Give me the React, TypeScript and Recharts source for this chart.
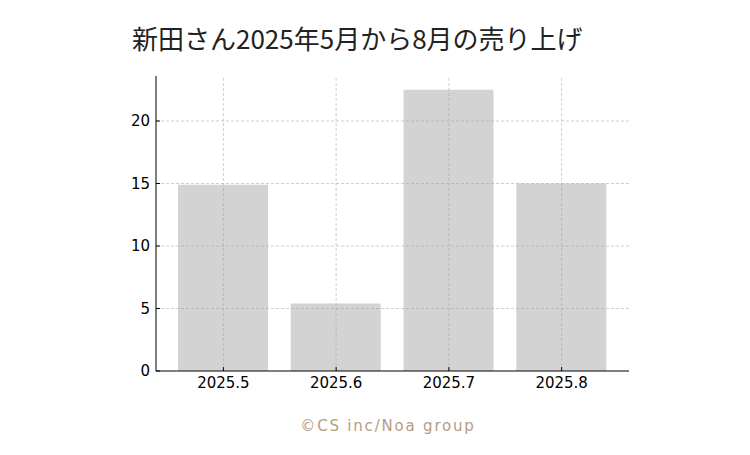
import { BarChart, Bar, XAxis, YAxis, ReferenceLine } from 'recharts';

const months = ['2025.5', '2025.6', '2025.7', '2025.8'];
const sales = [14.9, 5.4, 22.5, 15.0];
const yTicks = [0, 5, 10, 15, 20];

const chartData = months.map((m, i) => ({ month: m, sales: sales[i] }));

const tickStyle = { fill: '#000', fontSize: 15, fontFamily: 'DejaVu Sans' };
const gridProps = { stroke: '#a0a0a0', strokeOpacity: 0.5, strokeDasharray: '3 2' };

export default function App() {
  return (
    <div style={{ position: 'absolute', left: 0, top: 0, width: 750, height: 455, background: '#fff' }}>
      <div
        style={{
          position: 'absolute',
          left: 132,
          top: 20,
          fontFamily: '"Noto Sans CJK JP", sans-serif',
          fontSize: 26,
          color: '#222',
          lineHeight: '36px',
          whiteSpace: 'nowrap',
        }}
      >
        新田さん2025年5月から8月の売り上げ
      </div>

      <BarChart
        width={750}
        height={455}
        data={chartData}
        margin={{ top: 76, right: 121, bottom: 54, left: 116 }}
      >
        <XAxis
          dataKey="month"
          padding={{ left: 11, right: 11 }}
          stroke="#000"
          tick={tickStyle}
          tickSize={-4}
          tickMargin={10}
          height={30}
        />
        <YAxis
          domain={[0, 23.6]}
          ticks={yTicks}
          stroke="#000"
          tick={tickStyle}
          tickSize={-4}
          tickMargin={10}
          width={40}
          allowDataOverflow
        />
        <Bar dataKey="sales" fill="#d3d3d3" barSize={90} isAnimationActive={false} />
        {yTicks.slice(1).map((t) => (
          <ReferenceLine key={'y' + t} y={t} {...gridProps} />
        ))}
        {months.map((m) => (
          <ReferenceLine key={'x' + m} x={m} {...gridProps} />
        ))}
      </BarChart>

      <div
        style={{
          position: 'absolute',
          left: 0,
          width: 776,
          top: 417,
          textAlign: 'center',
          fontFamily: '"DejaVu Sans", sans-serif',
          fontSize: 15,
          letterSpacing: 1.8,
          color: '#b49c84',
        }}
      >
        ©CS inc/Noa group
      </div>
    </div>
  );
}
